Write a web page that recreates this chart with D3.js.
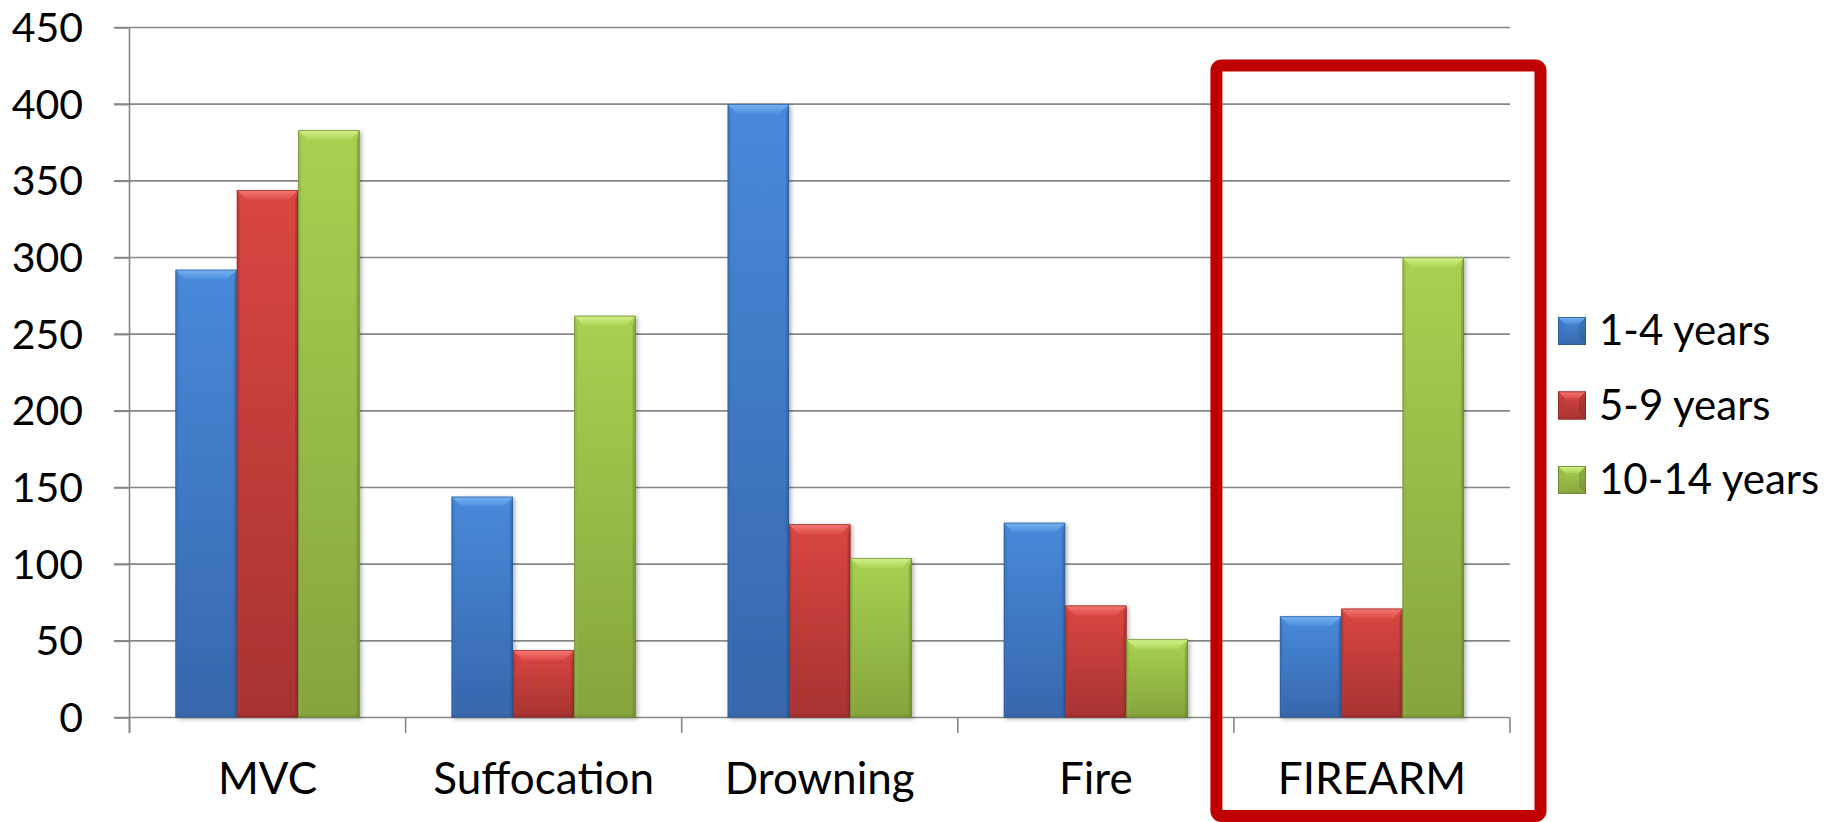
<!DOCTYPE html>
<html>
<head>
<meta charset="utf-8">
<script src="https://cdn.jsdelivr.net/npm/d3@7"></script>
<style>
  html, body { margin: 0; padding: 0; background: #fff; }
  svg { display: block; }
  text { font-family: Lato, "Open Sans", sans-serif; fill: #000; }
</style>
</head>
<body>
<svg id="chart" width="1835" height="822"></svg>
<script>
// Unintentional injury deaths by cause and age group
const categories = ["MVC", "Suffocation", "Drowning", "Fire", "FIREARM"];
const seriesNames = ["1-4 years", "5-9 years", "10-14 years"];
const ages1to4   = [292, 144, 400, 127, 66];
const ages5to9   = [344, 44, 126, 73, 71];
const ages10to14 = [383, 262, 104, 51, 300];
const yTicks = [0, 50, 100, 150, 200, 250, 300, 350, 400, 450];
const highlighted = "FIREARM";

const seriesValues = [ages1to4, ages5to9, ages10to14];

// colour sets for each series: body top/bottom, bevel light/mid, outline
const palettes = [
  { top: "#4889da", bottom: "#3767ac", hi: "#7ab3f2", mid: "#4a8cdc", edge: "#2c5894", side: "#3a71ba" },
  { top: "#da4642", bottom: "#a63331", hi: "#f47a75", mid: "#dd4b46", edge: "#862826", side: "#b73a37" },
  { top: "#a8d152", bottom: "#86a43d", hi: "#d6f28c", mid: "#abd457", edge: "#66822c", side: "#93b447" }
];

const svg = d3.select("#chart");
const margin = { left: 129.5, right: 1510, top: 27.5, bottom: 717.5 };

const x = d3.scaleBand().domain(categories).range([margin.left, margin.right]).padding(0);
const xInner = d3.scaleBand().domain(seriesNames).range([0, x.bandwidth()])
  .paddingInner(0).paddingOuter(0.75);
const y = d3.scaleLinear().domain([0, 450]).range([margin.bottom, margin.top]);

const defs = svg.append("defs");
palettes.forEach((p, i) => {
  const body = defs.append("linearGradient").attr("id", "body" + i)
    .attr("x1", 0).attr("y1", 0).attr("x2", 0).attr("y2", 1);
  body.append("stop").attr("offset", "0%").attr("stop-color", p.top);
  body.append("stop").attr("offset", "100%").attr("stop-color", p.bottom);
  const bev = defs.append("linearGradient").attr("id", "bevel" + i)
    .attr("x1", 0).attr("y1", 0).attr("x2", 0).attr("y2", 1);
  bev.append("stop").attr("offset", "0%").attr("stop-color", p.hi);
  bev.append("stop").attr("offset", "100%").attr("stop-color", p.mid);
});
const shadow = defs.append("filter").attr("id", "shadow")
  .attr("x", "-20%").attr("y", "-5%").attr("width", "150%").attr("height", "115%");
shadow.append("feDropShadow").attr("dx", 2).attr("dy", 1.5).attr("stdDeviation", 2.2)
  .attr("flood-color", "#000").attr("flood-opacity", 0.3);

// horizontal gridlines
svg.append("g").selectAll("line").data(yTicks).join("line")
  .attr("x1", margin.left - 15.5).attr("x2", margin.right)
  .attr("y1", d => y(d)).attr("y2", d => y(d))
  .attr("stroke", "#878787").attr("stroke-width", 1.6);

// y axis
const yAxis = svg.append("g").attr("transform", `translate(${margin.left},0)`)
  .call(d3.axisLeft(y).tickValues(yTicks).tickSize(15.5).tickPadding(31));
yAxis.select(".domain").remove();
yAxis.selectAll(".tick line").attr("stroke", "#878787").attr("stroke-width", 1.6);
yAxis.selectAll(".tick text").style("font-size", "41px").attr("fill", "#000").attr("dy", "0.34em");
svg.append("line")
  .attr("x1", margin.left).attr("x2", margin.left)
  .attr("y1", margin.top).attr("y2", margin.bottom + 15.5)
  .attr("stroke", "#878787").attr("stroke-width", 1.6);

// category boundary ticks below the baseline
const boundaries = categories.map(c => x(c)).concat([margin.right]);
svg.append("g").selectAll("line").data(boundaries).join("line")
  .attr("x1", d => d).attr("x2", d => d)
  .attr("y1", margin.bottom).attr("y2", margin.bottom + 15.5)
  .attr("stroke", "#878787").attr("stroke-width", 1.6);

// x axis labels
const xAxis = svg.append("g").attr("transform", `translate(0,${margin.bottom})`)
  .call(d3.axisBottom(x).tickSize(0).tickPadding(45));
xAxis.select(".domain").remove();
xAxis.selectAll(".tick text").style("font-size", "44px").attr("fill", "#000");

// bevelled bar drawn as body + facets
function bevelBar(g, bx, by, w, h, si) {
  const p = palettes[si];
  const b = Math.min(10, h / 2);
  const s = 3;
  g.append("rect").attr("x", bx).attr("y", by).attr("width", w).attr("height", h)
    .attr("fill", `url(#body${si})`).attr("filter", "url(#shadow)");
  // side facets
  g.append("path").attr("d", `M${bx},${by}L${bx + s},${by + b}L${bx + s},${by + h}L${bx},${by + h}Z`)
    .attr("fill", p.side).attr("opacity", 0.55);
  g.append("path").attr("d", `M${bx + w},${by}L${bx + w - s},${by + b}L${bx + w - s},${by + h}L${bx + w},${by + h}Z`)
    .attr("fill", p.edge).attr("opacity", 0.45);
  // bottom facet
  g.append("rect").attr("x", bx).attr("y", by + h - 3).attr("width", w).attr("height", 3)
    .attr("fill", p.edge).attr("opacity", 0.25);
  // top facet
  g.append("path").attr("d", `M${bx},${by}L${bx + w},${by}L${bx + w - b},${by + b}L${bx + b},${by + b}Z`)
    .attr("fill", `url(#bevel${si})`);
  g.append("rect").attr("x", bx + 0.4).attr("y", by + 0.4).attr("width", w - 0.8).attr("height", h - 0.8)
    .attr("fill", "none").attr("stroke", p.edge).attr("stroke-width", 0.8).attr("opacity", 0.8);
}

const barData = [];
categories.forEach((c, ci) => {
  seriesNames.forEach((sName, si) => {
    barData.push({ cat: c, series: sName, si, value: seriesValues[si][ci] });
  });
});

const barsG = svg.append("g");
barsG.selectAll("g").data(barData).join("g").each(function (d) {
  const bx = x(d.cat) + xInner(d.series);
  const by = y(d.value);
  bevelBar(d3.select(this), bx, by, xInner.bandwidth(), y(0) - by, d.si);
});

// highlight box around one category
const hx0 = x(highlighted);
svg.append("rect")
  .attr("x", hx0 - 17.5).attr("y", 65.5)
  .attr("width", x.bandwidth() + 48).attr("height", 750.5)
  .attr("rx", 5).attr("ry", 5)
  .attr("fill", "none").attr("stroke", "#c00000").attr("stroke-width", 12);

// legend
const legend = svg.append("g").attr("transform", "translate(1558,0)");
const legendY = d3.scalePoint().domain(seriesNames).range([331, 480]);
seriesNames.forEach((sName, si) => {
  const p = palettes[si];
  const cy = legendY(sName);
  const g = legend.append("g");
  const sz = 28, b = 7;
  const top = cy - sz / 2;
  g.append("rect").attr("x", 0).attr("y", top).attr("width", sz).attr("height", sz)
    .attr("fill", `url(#body${si})`);
  g.append("path").attr("d", `M0,${top}L${sz},${top}L${sz - b},${top + b}L${b},${top + b}Z`)
    .attr("fill", `url(#bevel${si})`);
  g.append("path").attr("d", `M0,${top}L${b},${top + b}L${b},${top + sz - b}L0,${top + sz}Z`)
    .attr("fill", p.side).attr("opacity", 0.5);
  g.append("path").attr("d", `M${sz},${top}L${sz - b},${top + b}L${sz - b},${top + sz - b}L${sz},${top + sz}Z`)
    .attr("fill", p.edge).attr("opacity", 0.4);
  g.append("rect").attr("x", 0.4).attr("y", top + 0.4).attr("width", sz - 0.8).attr("height", sz - 0.8)
    .attr("fill", "none").attr("stroke", p.edge).attr("stroke-width", 0.8);
  g.append("text").attr("x", 41).attr("y", cy + 14)
    .style("font-size", "42px").text(sName);
});
</script>
</body>
</html>
